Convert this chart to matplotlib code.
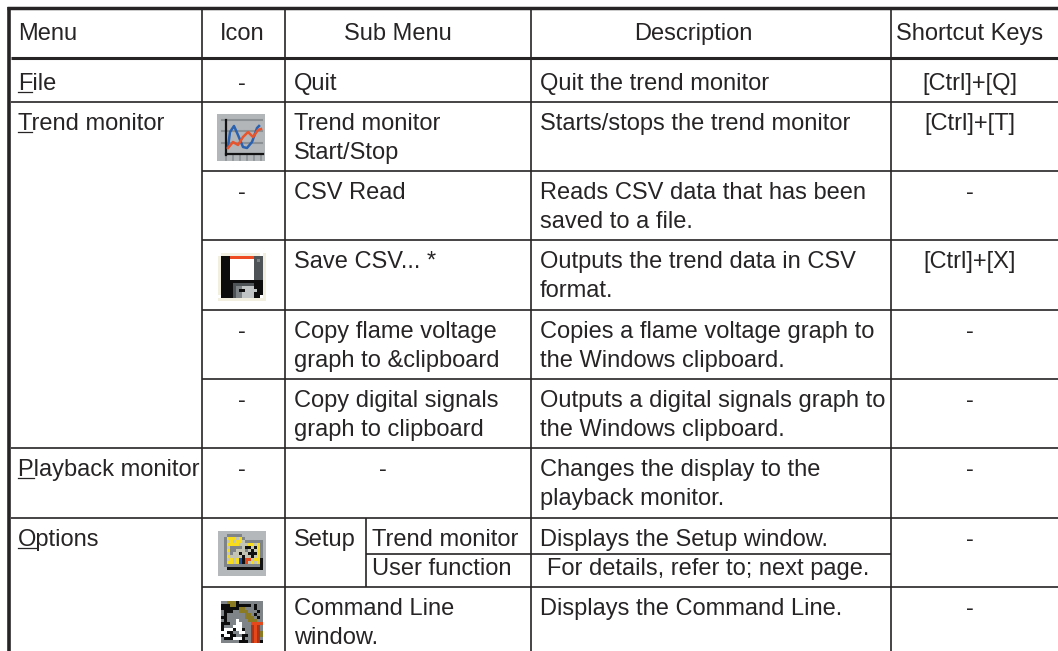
import matplotlib

matplotlib.use("Agg")
import matplotlib.pyplot as plt
import numpy as np
from matplotlib.colors import to_rgb

# table content, one list per column
headers = ["Menu", "Icon", "Sub Menu", "Description", "Shortcut Keys"]
menus = ["File", "Trend monitor", "", "", "", "", "Playback monitor", "Options", ""]
icons = ["-", "trend", "-", "save", "-", "-", "-", "folder", "tools"]
sub_menus = [
    "Quit",
    "Trend monitor\nStart/Stop",
    "CSV Read",
    "Save CSV... *",
    "Copy flame voltage\ngraph to &clipboard",
    "Copy digital signals\ngraph to clipboard",
    "",
    "Setup",
    "Command Line\nwindow.",
]
descriptions = [
    "Quit the trend monitor",
    "Starts/stops the trend monitor",
    "Reads CSV data that has been\nsaved to a file.",
    "Outputs the trend data in CSV\nformat.",
    "Copies a flame voltage graph to\nthe Windows clipboard.",
    "Outputs a digital signals graph to\nthe Windows clipboard.",
    "Changes the display to the\nplayback monitor.",
    "Displays the Setup window.",
    "Displays the Command Line.",
]
shortcuts = ["[Ctrl]+[Q]", "[Ctrl]+[T]", "-", "[Ctrl]+[X]", "-", "-", "-", "-", "-"]
setup_items = ["Trend monitor", "User function"]
setup_note = "For details, refer to; next page."

# grid, in image pixels
col_edges = [202, 285, 531, 891]
row_tops = [58, 102, 171, 240, 310, 379, 448, 518, 587]
row_inner = [171, 240, 310, 379, 587]
row_full = [102, 448, 518]
setup_x = 366
setup_y = 554

# icon sketches
trend_blue_x = [228, 230, 234, 238, 243, 247, 252, 257, 259]
trend_blue_y = [147, 132, 126, 135, 147, 148, 142, 128, 126]
trend_red_x = [228, 233, 238, 243, 248, 253, 258, 261]
trend_red_y = [148, 142, 145, 137, 132, 137, 130, 129]

save_rows = [
    "wcccccccccccccwc",
    "ckkkrrrrrrrrgggc",
    "ckkkwwwwwwwwgmgc",
    "ckkkwwwwwwwwgggc",
    "ckkkwwwwwwwwgggc",
    "ckkkwwwwwwwwgggc",
    "ckkkwwwwwwwwgggc",
    "ckkkwwwwwwwwgggc",
    "ckkkwwwwwwwwgggc",
    "ckkkkkkkkkkkkkkc",
    "ckkkkgggggggkkkc",
    "ckkkkgmmllllkkkc",
    "ckkkkgmkkllllkkc",
    "ckkkkgmmllllkkkc",
    "wkkkkgmmllllkkwc",
    "cccccccccccccccc",
]
folder_rows = [
    "aaaaaaaaaaaaaaaa",
    "aaadddddaaaaaaaa",
    "aadyyylydaaaaaaa",
    "aadlylyyldddddda",
    "aadyyyylllyylyda",
    "aadlddddlkklkyda",
    "aadyddllldlklyda",
    "aadldllkllkkkyda",
    "aadyllllkllklyda",
    "aadlylybkrrlyyka",
    "aadyylybkrlylyka",
    "aaddddddddddddka",
    "aaakkkkkkkkkkkka",
    "aaaaaaaaaaaaaaaa",
    "aaaaaaaaaaaaaaaa",
]
tools_rows = [
    "ggoookgggggggg",
    "kkkookkkkkgkgg",
    "kkkkkkoogggkgg",
    "gkkkggooogggkg",
    "gkggggggoogkgg",
    "kkggggggooogkg",
    "gkgggwgggooogg",
    "kkkggwwgggrrrr",
    "kgggwwwgggRrRg",
    "kwwwkwwkggRrRg",
    "wwkkggwwggRrRo",
    "kwwkkggkkgRrRo",
    "gkkkwwwkggRrRg",
    "ggggggkkkgRrRk",
]
pixel_colors = {
    "w": "#ffffff", "c": "#f2eee0", "k": "#0c0c0c", "r": "#ef4b23",
    "g": "#4e5357", "m": "#7d8285", "l": "#c0c4c4",
}
folder_colors = {
    "a": "#b4b8bb", "d": "#7f8488", "y": "#f7dc1e", "l": "#c4c4b4",
    "k": "#111111", "b": "#1f4fa0", "r": "#e2481c",
}
tools_colors = {
    "g": "#7f8488", "k": "#0c0c0c", "o": "#8a7a22", "w": "#ffffff",
    "r": "#e5481b", "R": "#a8341a",
}

INK = "#272425"
FONT = "Liberation Sans"
SIZE = 17
LINE_STEP = 29
BASE_OFFSET = 28


def put(ax, x, y, text, ha="left"):
    return ax.text(x, y, text, ha=ha, va="baseline", color=INK, family=FONT, fontsize=SIZE)


def put_lines(ax, x, top, text, ha="left"):
    for i, line in enumerate(text.split("\n")):
        put(ax, x, top + BASE_OFFSET + i * LINE_STEP, line, ha)


def bitmap(ax, rows, colors, x0, y0, cell=3):
    img = np.array([[to_rgb(colors[c]) for c in row] for row in rows])
    h, w = img.shape[:2]
    ax.imshow(img, extent=(x0, x0 + w * cell, y0 + h * cell, y0),
              interpolation="nearest", aspect="auto", zorder=2)


def draw_trend(ax):
    ax.fill_between([217, 265], 114, 161, color="#b2b6b9", lw=0, zorder=2)
    for y in [120, 131, 143]:
        ax.plot([222, 262], [y, y], color="#8c9195", lw=1.5, zorder=3)
    ax.plot([226, 226], [120, 155], color="#141414", lw=1.6, zorder=4)
    ax.plot([226, 263], [154, 154], color="#141414", lw=1.6, zorder=4)
    for x in range(226, 262, 7):
        ax.plot([x, x], [155, 160], color="#8c9195", lw=1.2, zorder=3)
    ax.plot(trend_blue_x, trend_blue_y, color="#2b62b0", lw=1.8, zorder=5)
    ax.plot(trend_red_x, trend_red_y, color="#e8552c", lw=1.8, zorder=5)


def draw_icon(ax, name, row):
    if name == "trend":
        draw_trend(ax)
    elif name == "save":
        bitmap(ax, save_rows, pixel_colors, 218, 253)
    elif name == "folder":
        bitmap(ax, folder_rows, folder_colors, 218, 531)
    elif name == "tools":
        bitmap(ax, tools_rows, tools_colors, 221, 601)


fig = plt.figure(figsize=(10.58, 6.51), dpi=100)
ax = fig.add_axes([0, 0, 1, 1])

# header row
put(ax, 18, 40, headers[0])
put(ax, 242, 40, headers[1], "center")
put(ax, 398, 40, headers[2], "center")
put(ax, 693, 40, headers[3], "center")
put(ax, 970, 40, headers[4], "center")

for i, top in enumerate(row_tops):
    # File row sits a little lower because of the thick header rule
    off = 4 if i == 0 else 0
    if menus[i]:
        put_lines(ax, 18, top + off, menus[i])
    if icons[i] == "-":
        put_lines(ax, 242, top + off, "-", "center")
    else:
        draw_icon(ax, icons[i], i)
    if sub_menus[i]:
        put_lines(ax, 294, top + off, sub_menus[i])
    else:
        put_lines(ax, 383, top + off, "-", "center")
    put_lines(ax, 540, top + off, descriptions[i])
    put_lines(ax, 970, top + off, shortcuts[i], "center")

# setup row splits in two
put_lines(ax, 372, row_tops[7], setup_items[0])
put(ax, 372, 575, setup_items[1])
put(ax, 547, 575, setup_note)

ax.set_xlim(0, 1058)
ax.set_ylim(651, 0)
ax.axis("off")

# underline the menu access keys
fig.canvas.draw()
for i, menu in enumerate(menus):
    if not menu:
        continue
    off = 4 if i == 0 else 0
    base = row_tops[i] + off + BASE_OFFSET
    probe = put(ax, 18, base, menu[0])
    width = probe.get_window_extent(fig.canvas.get_renderer()).width
    probe.remove()
    ax.plot([18, 18 + width], [base + 2, base + 2], color=INK, lw=0.9, zorder=3)

# rules
RULE = dict(color=INK, solid_capstyle="butt", zorder=4)
ax.plot([7, 1058], [7.8, 7.8], lw=2.5, **RULE)
ax.plot([9.2, 9.2], [6.5, 651], lw=2.6, **RULE)
ax.plot([11, 1058], [57.7, 57.7], lw=2.2, **RULE)
for y in row_full:
    ax.plot([11, 1058], [y, y], lw=1.2, **RULE)
for y in row_inner:
    ax.plot([202, 1058], [y, y], lw=1.2, **RULE)
for x in col_edges:
    ax.plot([x, x], [9, 651], lw=1.2, **RULE)
ax.plot([setup_x, setup_x], [518, 587], lw=1.2, **RULE)
ax.plot([setup_x, 891], [setup_y, setup_y], lw=1.2, **RULE)

fig.savefig("out.png", dpi=100, facecolor="white")
